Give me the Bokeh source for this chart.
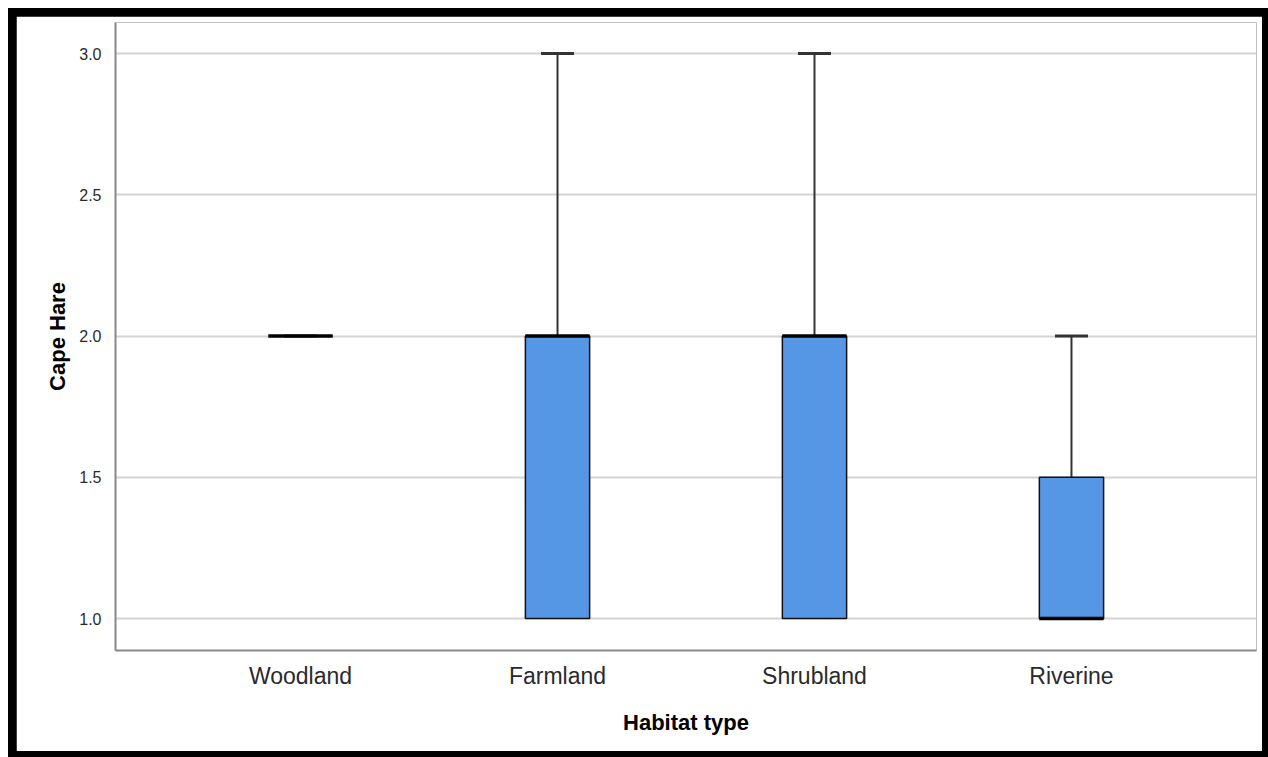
from bokeh.plotting import figure
from bokeh.layouts import column
from bokeh.models import ColumnDataSource, Range1d, FactorRange, FixedTicker, Whisker, TeeHead, NumeralTickFormatter
from bokeh.transform import dodge
from bokeh.embed import file_html
from bokeh.resources import INLINE

habitats = ["Woodland", "Farmland", "Shrubland", "Riverine"]
q1 = [2.0, 1.0, 1.0, 1.0]
median = [2.0, 2.0, 2.0, 1.0]
q3 = [2.0, 2.0, 2.0, 1.5]
whisker_low = [2.0, 1.0, 1.0, 1.0]
whisker_high = [2.0, 3.0, 3.0, 2.0]
y_ticks = [1.0, 1.5, 2.0, 2.5, 3.0]

src = ColumnDataSource(dict(cat=habitats, q1=q1, med=median, q3=q3,
                            lo=whisker_low, hi=whisker_high))

FONT = "Liberation Sans"

p = figure(width=1246, height=735, output_backend="svg", toolbar_location=None,
           x_range=FactorRange(factors=habitats, range_padding=0.11),
           y_range=Range1d(0.887, 3.11),
           min_border_left=99, min_border_right=6, min_border_top=6, min_border_bottom=101)
p.margin = (8, 6, 6, 8)
p.outline_line_color = None
p.background_fill_color = "white"
p.border_fill_color = "white"

# grid
p.xgrid.grid_line_color = None
p.ygrid.grid_line_color = "#d4d4d4"
p.ygrid.grid_line_width = 2
p.yaxis.ticker = FixedTicker(ticks=y_ticks)

# axes
for ax in (p.xaxis[0], p.yaxis[0]):
    ax.axis_line_color = "#888888"
    ax.axis_line_width = 2
    ax.major_tick_line_color = None
    ax.minor_tick_line_color = None
    ax.major_label_text_font = FONT
    ax.axis_label_text_font = FONT
    ax.axis_label_text_font_style = "bold"
    ax.axis_label_text_color = "black"
    ax.axis_label_text_font_size = "22px"

p.yaxis.major_label_text_font_size = "16px"
p.yaxis.major_label_text_color = "#2a2a2a"
p.yaxis.major_label_standoff = 8
p.yaxis.axis_label = "Cape Hare"
p.yaxis.axis_label_standoff = 6
p.yaxis.formatter = NumeralTickFormatter(format="0.0")

p.xaxis.major_label_text_font_size = "23px"
p.xaxis.major_label_text_color = "#2a2a2a"
p.xaxis.major_label_standoff = 6
p.xaxis.axis_label = "Habitat type"
p.xaxis.axis_label_standoff = 18

# whiskers (upper)
w = Whisker(source=src, base="cat", lower="q3", upper="hi", dimension="height",
            line_color="#333333", line_width=2,
            upper_head=TeeHead(size=33, line_color="#333333", line_width=3),
            lower_head=None)
p.add_layout(w)

# boxes
p.vbar(x="cat", width=0.25, bottom="q1", top="q3", source=src,
       fill_color="#5596e5", line_color="#111111", line_width=1.5)

# medians
p.segment(x0=dodge("cat", -0.125, range=p.x_range), x1=dodge("cat", 0.125, range=p.x_range),
          y0="med", y1="med", source=src, line_color="black", line_width=3.5)

layout = column(p, styles={"background-color": "black"})
layout.margin = (8, 0, 0, 8)

open("out.html", "w").write(file_html(layout, INLINE))
